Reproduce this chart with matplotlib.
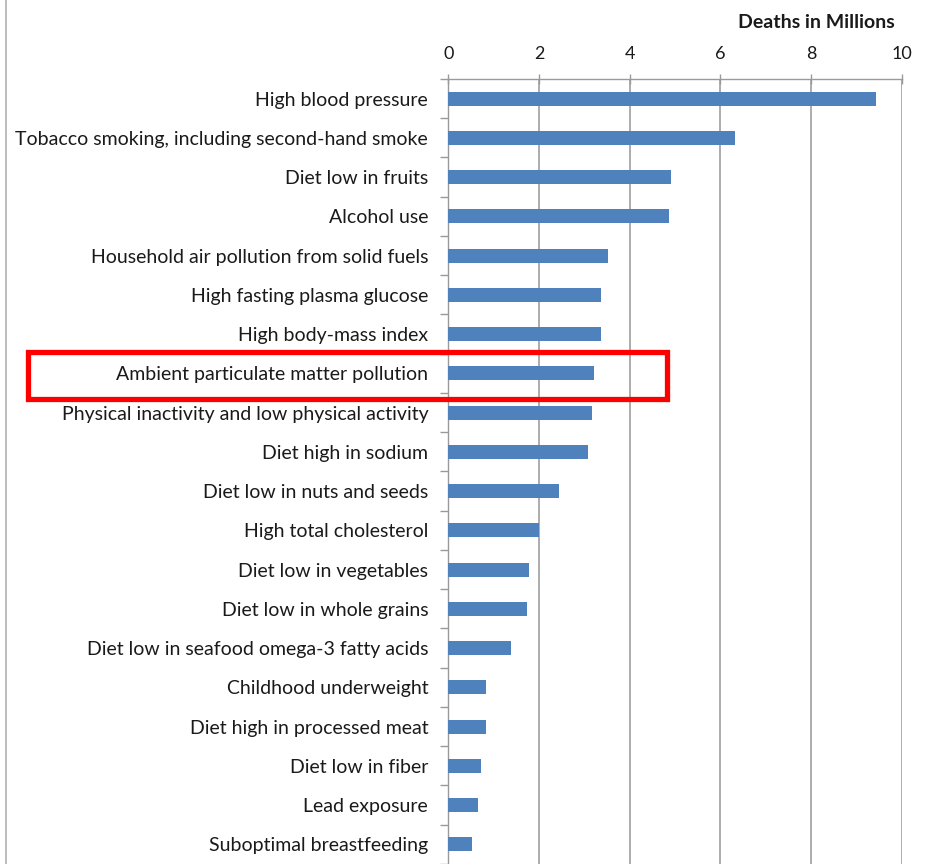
import matplotlib
matplotlib.use("Agg")
import matplotlib.pyplot as plt
from matplotlib.patches import Rectangle
import numpy as np

plt.rcParams['font.family'] = ['Lato', 'DejaVu Sans']

risk_factors = [
    "High blood pressure",
    "Tobacco smoking, including second-hand smoke",
    "Diet low in fruits",
    "Alcohol use",
    "Household air pollution from solid fuels",
    "High fasting plasma glucose",
    "High body-mass index",
    "Ambient particulate matter pollution",
    "Physical inactivity and low physical activity",
    "Diet high in sodium",
    "Diet low in nuts and seeds",
    "High total cholesterol",
    "Diet low in vegetables",
    "Diet low in whole grains",
    "Diet low in seafood omega-3 fatty acids",
    "Childhood underweight",
    "Diet high in processed meat",
    "Diet low in fiber",
    "Lead exposure",
    "Suboptimal breastfeeding",
]
deaths_millions = [9.43, 6.32, 4.91, 4.87, 3.53, 3.36, 3.36, 3.21, 3.18, 3.09,
                   2.45, 2.00, 1.79, 1.73, 1.38, 0.84, 0.84, 0.73, 0.65, 0.52]
x_ticks = [0, 2, 4, 6, 8, 10]
highlighted = "Ambient particulate matter pollution"

W, H = 941, 864
fig = plt.figure(figsize=(W / 100, H / 100), dpi=100)
ax = fig.add_axes([448.3 / W, 0.0, (901.7 - 448.3) / W, (H - 79) / H])

y = np.arange(len(risk_factors))
ax.barh(y, deaths_millions, height=0.36, color="#4f81bd", zorder=3)

ax.set_xlim(0, 10)
ax.set_ylim(len(risk_factors) - 0.5, -0.5)
ax.set_xticks(x_ticks)
ax.set_xticklabels([str(t) for t in x_ticks])
ax.xaxis.tick_top()
ax.xaxis.set_label_position("top")
ax.tick_params(axis="x", direction="inout", length=7, width=1, color="#9a9a9a",
               labelsize=13, labelcolor="#1a1a1a", pad=9)
ax.grid(axis="x", color="#a6a6a6", linewidth=1.3, zorder=0)

ax.set_yticks(y)
ax.set_yticklabels(risk_factors)
ax.tick_params(axis="y", which="major", length=0, labelsize=14,
               labelcolor="#1a1a1a", pad=14.5)
ax.set_yticks(np.arange(-0.5, len(risk_factors), 1.0), minor=True)
ax.tick_params(axis="y", which="minor", direction="out", length=6, width=1,
               color="#9a9a9a")

for side in ("right", "bottom"):
    ax.spines[side].set_visible(False)
for side in ("top", "left"):
    ax.spines[side].set_color("#9a9a9a")
    ax.spines[side].set_linewidth(1.0)

fig.text(816 / W, 1 - 22 / H, "Deaths in Millions", ha="center", va="center",
         fontsize=14, fontweight="bold", color="#1a1a1a")

# frame line along the left edge
fig.add_artist(plt.Line2D([5.5 / W, 5.5 / W], [0, 1], transform=fig.transFigure,
                          color="#b0b0b0", linewidth=1.2))

# red box around the highlighted risk factor
fig.add_artist(Rectangle((27.5 / W, 1 - 399 / H), (667 - 27.5) / W, (399 - 352) / H,
                         transform=fig.transFigure, fill=False,
                         edgecolor="#ff0000", linewidth=3.8, zorder=10))

fig.savefig("out.png", dpi=100)
